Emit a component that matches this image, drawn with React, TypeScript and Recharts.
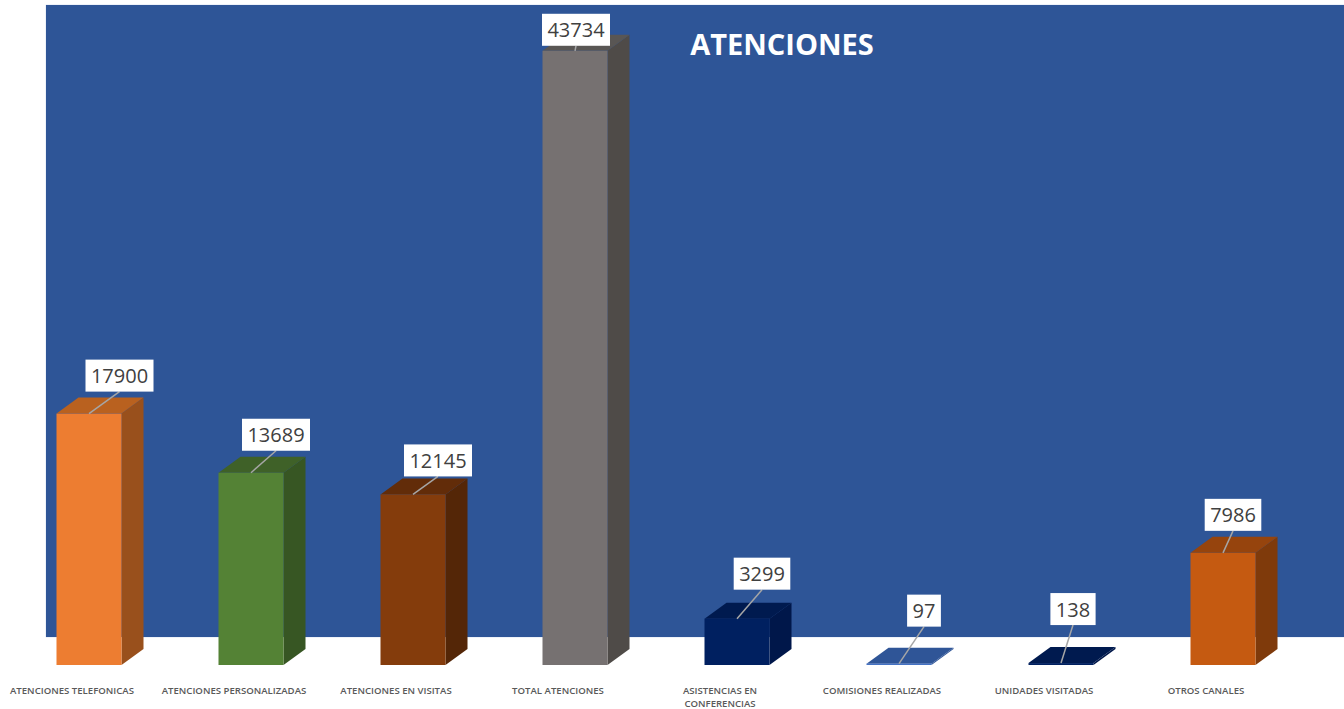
import { BarChart, Bar, XAxis, YAxis, LabelList } from "recharts"

const categories = [
  "ATENCIONES TELEFONICAS",
  "ATENCIONES PERSONALIZADAS",
  "ATENCIONES EN VISITAS",
  "TOTAL ATENCIONES",
  "ASISTENCIAS EN\nCONFERENCIAS",
  "COMISIONES REALIZADAS",
  "UNIDADES VISITADAS",
  "OTROS CANALES",
]
const values = [17900, 13689, 12145, 43734, 3299, 97, 138, 7986]

const frontColors = ["#ed7d31", "#548235", "#843c0c", "#767171", "#002060", "#4472c4", "#002060", "#c55a11"]
const topColors = ["#b9611f", "#3f6128", "#622c09", "#595654", "#001a4f", "#2f5597", "#001a4f", "#96440d"]
const sideColors = ["#99501c", "#375623", "#542607", "#4f4b48", "#00174a", "#2f5597", "#00174a", "#7f3a0b"]

// label box placement relative to the middle of each bar's top edge
const labelDx = [30.5, 25, 25, 1, 25, 25, 12, 10]
const labelGap = [22, 22, 18, 5, 29, 37, 38, 22]

const data = categories.map((name, i) => ({ name, value: values[i] }))

const DEPTH_X = 22
const DEPTH_Y = 16
const FONT = "'Open Sans', sans-serif"

function Bar3D(props: any) {
  const { x, y, width, height, index } = props
  const r = x + width
  const b = y + height
  return (
    <g>
      <polygon
        points={`${r},${y} ${r + DEPTH_X},${y - DEPTH_Y} ${r + DEPTH_X},${b - DEPTH_Y} ${r},${b}`}
        fill={sideColors[index]}
      />
      <polygon
        points={`${x},${y} ${x + DEPTH_X},${y - DEPTH_Y} ${r + DEPTH_X},${y - DEPTH_Y} ${r},${y}`}
        fill={topColors[index]}
      />
      <rect x={x} y={y} width={width} height={height} fill={frontColors[index]} />
    </g>
  )
}

function ValueLabel(props: any) {
  const { x, y, width, value, index } = props
  const text = String(value)
  const boxW = text.length * 11.4 + 11
  const boxH = 32
  const cx = x + width / 2 + labelDx[index]
  const bottom = y - labelGap[index]
  return (
    <g>
      <line
        x1={x + width / 2}
        y1={y}
        x2={cx}
        y2={bottom}
        stroke="#a6a6a6"
        strokeWidth={1.5}
      />
      <rect x={cx - boxW / 2} y={bottom - boxH} width={boxW} height={boxH} fill="#ffffff" />
      <text
        x={cx}
        y={bottom - boxH / 2 + 7.5}
        textAnchor="middle"
        fontFamily={FONT}
        fontSize={20}
        fill="#404040"
      >
        {text}
      </text>
    </g>
  )
}

function CategoryTick(props: any) {
  const { x, y, payload } = props
  const lines = String(payload.value).split("\n")
  return (
    <text
      x={x - 17}
      y={y}
      textAnchor="middle"
      fontFamily={FONT}
      fontSize={9.6}
      fontWeight={600}
      fill="#595959"
    >
      {lines.map((line, i) => (
        <tspan key={i} x={x - 17} y={y + 21 + i * 13}>
          {line}
        </tspan>
      ))}
    </text>
  )
}

export default function App() {
  return (
    <div style={{ position: "absolute", left: 0, top: 0, width: 1344, height: 709, background: "#ffffff", overflow: "hidden" }}>
      {/* blue panel behind the bars */}
      <div
        style={{
          position: "absolute",
          left: 46,
          top: 5,
          width: 1298,
          height: 632,
          background: "#2e5597",
          boxShadow: "0 0 1px #9db4d8",
        }}
      />
      <div style={{ position: "absolute", left: 0, top: 0 }}>
        <BarChart
          width={1344}
          height={709}
          data={data}
          margin={{ top: 33, right: 40, bottom: 0, left: 8 }}
          barCategoryGap={48.5}
        >
          <XAxis
            dataKey="name"
            height={44}
            axisLine={false}
            tickLine={false}
            interval={0}
            tick={<CategoryTick />}
          />
          <YAxis hide width={0} domain={[0, 45000]} />
          <Bar dataKey="value" shape={<Bar3D />} isAnimationActive={false}>
            <LabelList dataKey="value" content={<ValueLabel />} />
          </Bar>
          <text
            x={782}
            y={55}
            textAnchor="middle"
            fontFamily={FONT}
            fontSize={29}
            fontWeight={700}
            fill="#ffffff"
          >
            ATENCIONES
          </text>
        </BarChart>
      </div>
    </div>
  )
}
